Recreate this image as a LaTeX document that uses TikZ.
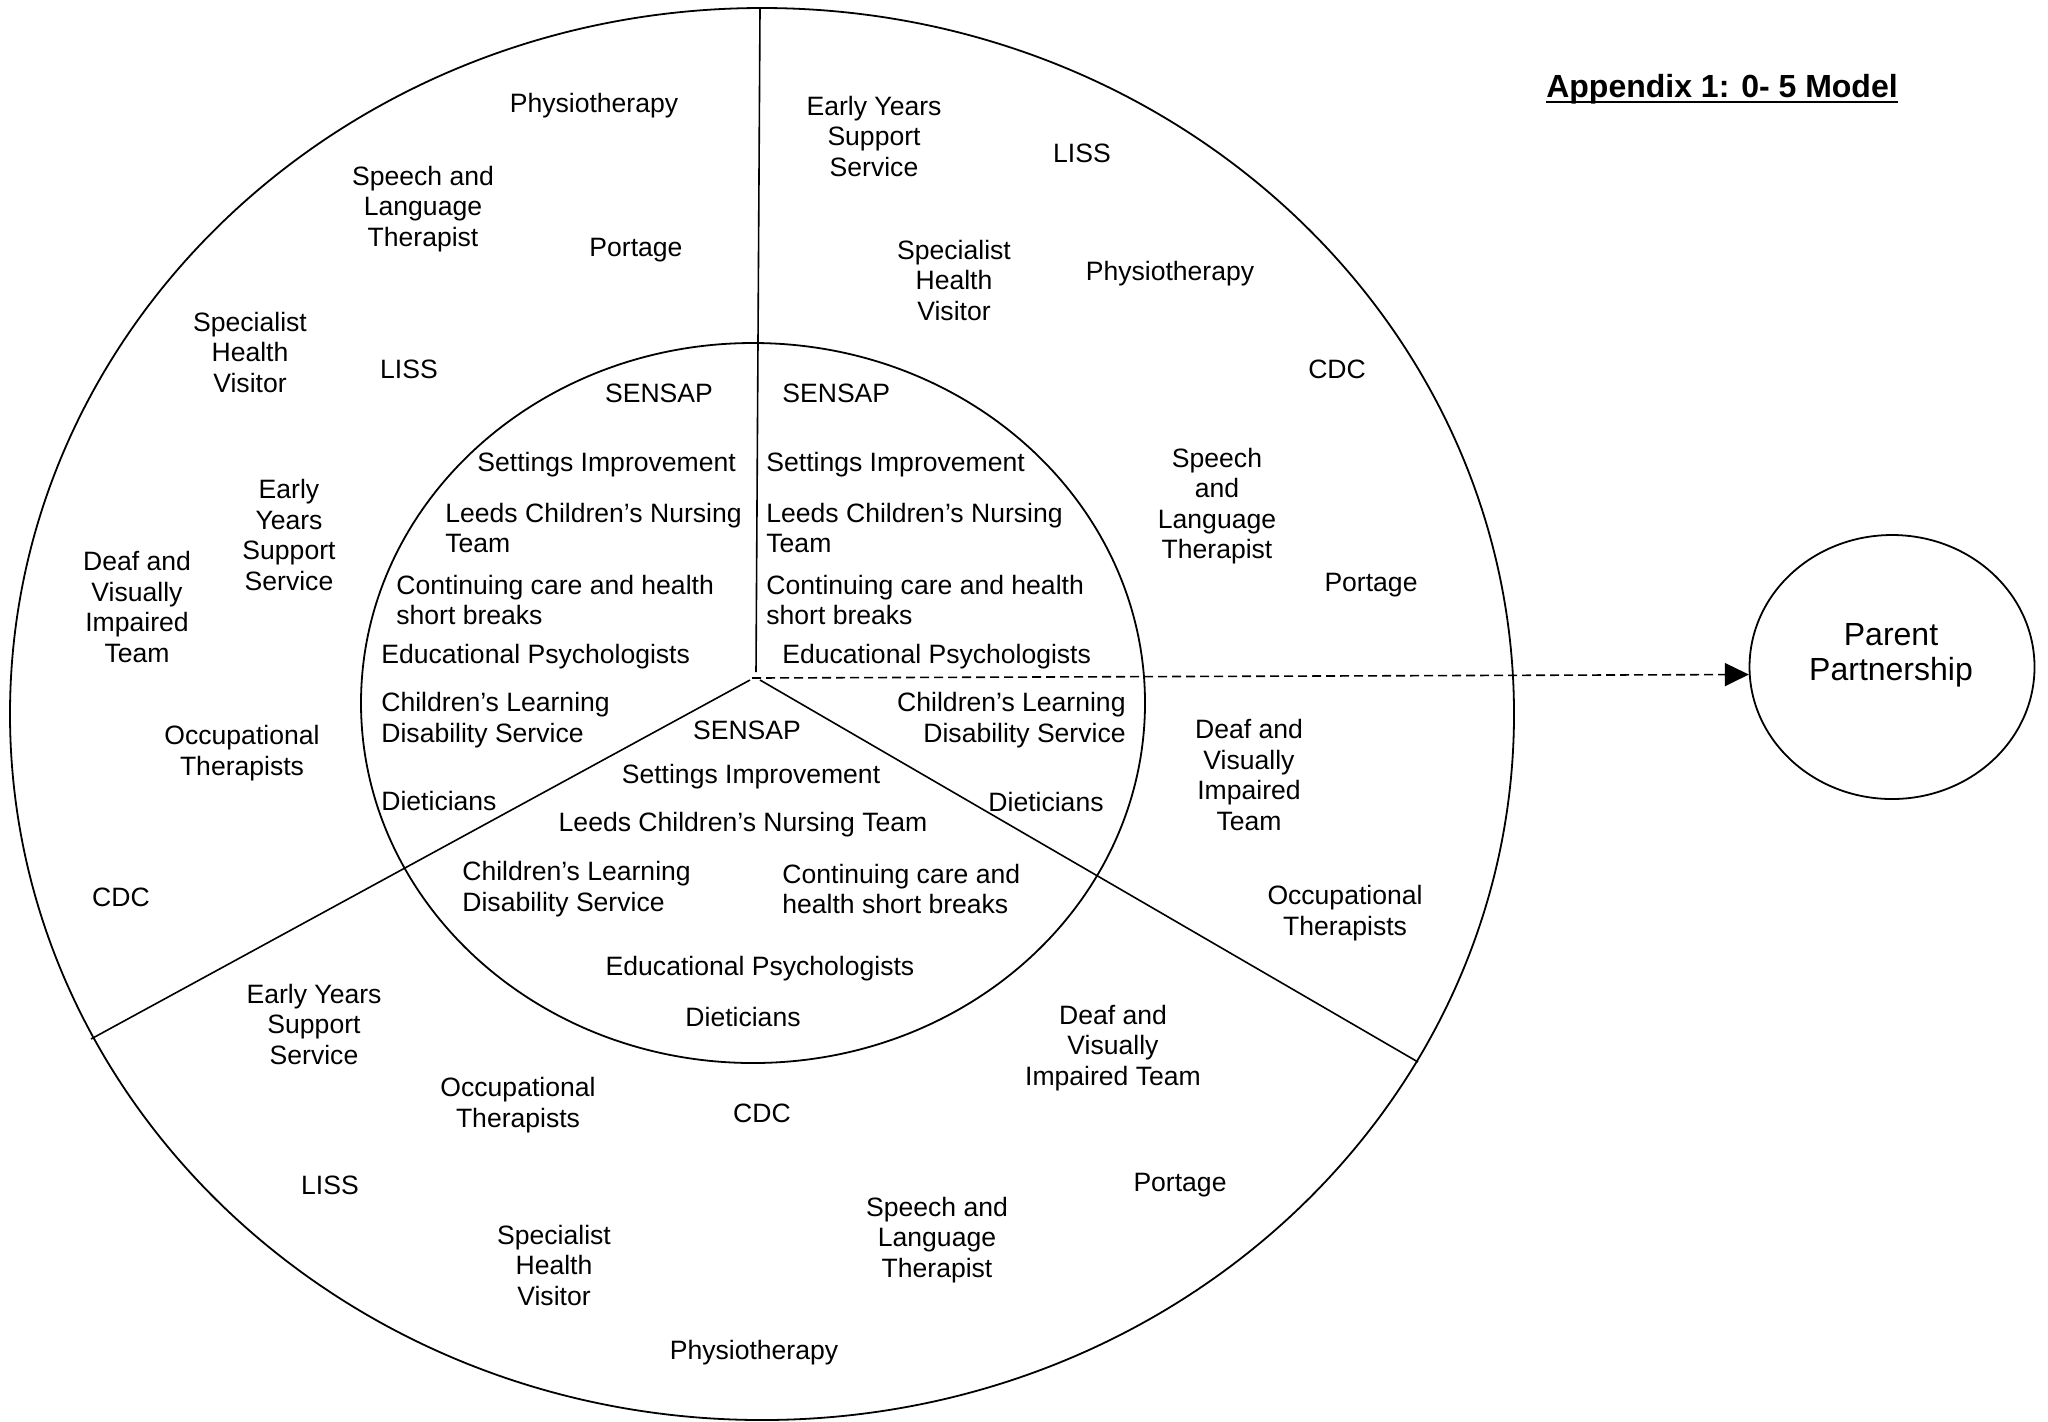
\documentclass[tikz,border=0pt]{standalone}
\usepackage{fontspec}
\setmainfont{Liberation Sans}
\usetikzlibrary{shapes.geometric,arrows.meta}
\begin{document}
\begin{tikzpicture}[x=0.5pt,y=-0.5pt,
  txt/.style={inner sep=0pt, align=center, font=\fontsize{13.28pt}{15.25pt}\selectfont},
  txtl/.style={txt, align=left, anchor=west},
  txtr/.style={txt, align=right, anchor=east},
  ring/.style={line width=0.9pt},
  divider/.style={line width=0.8pt},
  link/.style={line width=0.8pt, dash pattern=on 4.5pt off 2.5pt, -{Triangle[length=12pt,width=11.5pt]}},
  title/.style={inner sep=0pt, font=\fontsize{16pt}{19pt}\selectfont\bfseries},
  pptext/.style={inner sep=0pt, align=center, font=\fontsize{16pt}{17.7pt}\selectfont},
]
\useasboundingbox (0,0) rectangle (2048,1421);
\fill[white] (0,0) rectangle (2048,1421);

% rings
\draw[ring] (762,714) ellipse [x radius=376pt, y radius=353pt];
\draw[ring] (753,703) ellipse [x radius=196pt, y radius=180pt];

% dividers
\coordinate (vtop) at (760,9);
\coordinate (vbot) at (756,672);
\coordinate (lstart) at (750,680);
\coordinate (lend) at (91,1039);
\coordinate (rstart) at (760,680);
\coordinate (rend) at (1418,1062);
\coordinate (dstart) at (752,678);
\draw[divider] (vtop) -- (vbot);
\draw[divider] (lstart) -- (lend);
\draw[divider] (rstart) -- (rend);

% parent partnership
\node[draw, ellipse, line width=0.9pt, minimum width=142.5pt, minimum height=132pt, inner sep=0pt] (pp) at (1892,667) {};
\node[pptext] (pptxt) at (1891,655) {Parent\\Partnership};
\draw[link] (dstart) -- (pp.183);

% title
\node[title, anchor=base] (ttl) at (1722,97) {Appendix 1: 0- 5 Model};
\draw[line width=1.2pt] ([yshift=-2.6pt]ttl.base west) -- ([yshift=-2.6pt]ttl.base east);

% upper-left outer
\node[txt] (physio1) at (594,106) {Physiotherapy};
\node[txt] (slt1) at (423,209) {Speech and\\Language\\Therapist};
\node[txt] (portage1) at (636,250) {Portage};
\node[txt] (shv1) at (250,352) {Specialist\\Health\\Visitor};
\node[txt] (liss1) at (409,369) {LISS};
\node[txt] (eyss1) at (289,535) {Early\\Years\\Support\\Service};
\node[txt] (dvi1) at (137,607) {Deaf and\\Visually\\Impaired\\Team};
\node[txt] (ot1) at (242,753) {Occupational\\Therapists};
\node[txt] (cdc1) at (121,897) {CDC};

% upper-left inner
\node[txt] (sensap1) at (659,393) {SENSAP};
\node[txtl] (set1) at (477,465) {Settings Improvement};
\node[txtl] (lcnt1) at (445,528) {Leeds Children’s Nursing\\Team};
\node[txtl] (cc1) at (396,600) {Continuing care and health\\short breaks};
\node[txtl] (ep1) at (381,657) {Educational Psychologists};
\node[txtl] (cld1) at (381,720) {Children’s Learning\\Disability Service};
\node[txtl] (diet1) at (381,801) {Dieticians};

% upper-right inner
\node[txtl] (sensap2) at (782,393) {SENSAP};
\node[txtl] (set2) at (766,465) {Settings Improvement};
\node[txtl] (lcnt2) at (766,528) {Leeds Children’s Nursing\\Team};
\node[txtl] (cc2) at (766,600) {Continuing care and health\\short breaks};
\node[txtl] (ep2) at (782,657) {Educational Psychologists};
\node[txtr] (cld2) at (1126,720) {Children’s Learning\\Disability Service};
\node[txt] (diet2) at (1046,802) {Dieticians};

% upper-right outer
\node[txt] (eyss2) at (874,136) {Early Years\\Support\\Service};
\node[txt] (liss2) at (1082,153) {LISS};
\node[txt] (shv2) at (954,280) {Specialist\\Health\\Visitor};
\node[txt] (physio2) at (1170,274) {Physiotherapy};
\node[txt] (cdc2) at (1337,369) {CDC};
\node[txt] (slt2) at (1217,506) {Speech\\and\\Language\\Therapist};
\node[txt] (portage2) at (1371,585) {Portage};
\node[txt] (dvi2) at (1249,775) {Deaf and\\Visually\\Impaired\\Team};
\node[txt] (ot2) at (1345,913) {Occupational\\Therapists};

% bottom inner
\node[txt] (sensap3) at (747,730) {SENSAP};
\node[txt] (set3) at (751,777) {Settings Improvement};
\node[txt] (lcnt3) at (743,825) {Leeds Children’s Nursing Team};
\node[txtl] (cld3) at (462,889) {Children’s Learning\\Disability Service};
\node[txtl] (cc3) at (782,889) {Continuing care and\\health short breaks};
\node[txt] (ep3) at (760,969) {Educational Psychologists};
\node[txt] (diet3) at (743,1017) {Dieticians};

% bottom outer
\node[txt] (eyss3) at (314,1024) {Early Years\\Support\\Service};
\node[txt] (ot3) at (518,1105) {Occupational\\Therapists};
\node[txt] (cdc3) at (762,1113) {CDC};
\node[txt] (dvi3) at (1113,1048) {Deaf and\\Visually\\Impaired Team};
\node[txt] (liss3) at (330,1185) {LISS};
\node[txt] (shv3) at (554,1265) {Specialist\\Health\\Visitor};
\node[txt] (slt3) at (937,1240) {Speech and\\Language\\Therapist};
\node[txt] (portage3) at (1180,1185) {Portage};
\node[txt] (physio3) at (754,1353) {Physiotherapy};
\end{tikzpicture}
\end{document}
